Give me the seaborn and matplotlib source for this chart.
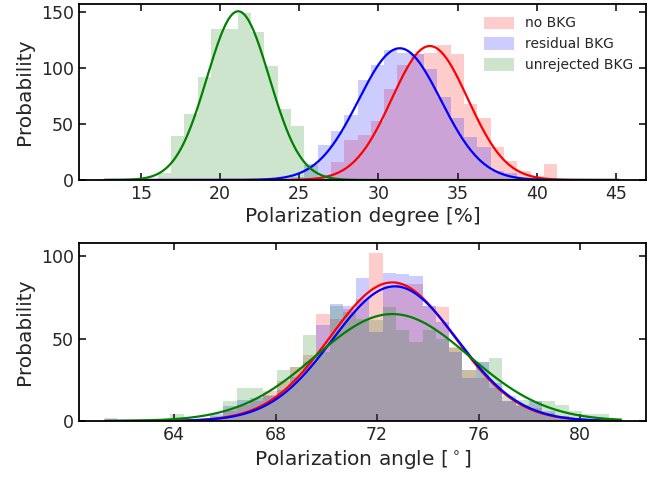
import numpy as np
import pandas as pd
import seaborn as sns
import matplotlib
matplotlib.use("Agg")
import matplotlib.pyplot as plt

# ---------------- data ----------------
# top panel: polarization degree histograms (common bins)
deg_bin_start = 16.07
deg_bin_width = 0.841
deg_no_bkg = [0, 0, 0, 0, 0, 0, 0, 0, 0, 0,
              0, 0, 3, 16, 36, 40, 53, 81, 103, 112,
              113, 120, 112, 68, 55, 29, 17, 8, 4, 14]
deg_residual = [0, 0, 0, 0, 0, 0, 0, 0, 0, 0,
                3, 14, 31, 44, 58, 89, 103, 116, 113, 112,
                99, 74, 55, 38, 29, 8, 6, 2, 1, 0]
deg_unrejected = [6, 39, 59, 92, 135, 135, 149, 132, 102, 63,
                  48, 13, 0, 0, 0, 0, 0, 0, 0, 0,
                  0, 0, 0, 0, 0, 0, 0, 0, 0, 0]
# gaussian fits: amplitude, mean, sigma
deg_fit_no_bkg = (119.5, 33.25, 2.40)
deg_fit_residual = (117.5, 31.35, 2.60)
deg_fit_unrejected = (150.5, 21.15, 1.97)
deg_curve_range = (12.7, 45.2)

# bottom panel: polarization angle histograms (common bins)
ang_bin_start = 61.24
ang_bin_width = 0.523
ang_no_bkg = [0, 0, 0, 0, 0, 0, 0, 0, 2, 6,
              10, 12, 18, 24, 33, 40, 65, 62, 68, 74,
              102, 82, 83, 83, 70, 69, 45, 31, 26, 20,
              12, 9, 8, 5, 3, 1, 0, 0, 0]
ang_residual = [0, 0, 0, 0, 0, 0, 0, 1, 4, 9,
                13, 14, 15, 19, 27, 36, 58, 71, 70, 87,
                54, 90, 89, 88, 70, 60, 42, 26, 36, 23,
                12, 10, 12, 6, 3, 1, 0, 0, 0]
ang_unrejected = [2, 0, 0, 0, 0, 4, 0, 1, 3, 12,
                  20, 20, 16, 31, 33, 52, 42, 70, 66, 62,
                  61, 69, 55, 48, 55, 50, 44, 31, 36, 38,
                  15, 13, 12, 12, 10, 6, 4, 4, 2]
ang_fit_no_bkg = (84.1, 72.6, 2.45)
ang_fit_residual = (81.7, 72.7, 2.45)
ang_fit_unrejected = (64.9, 72.6, 3.03)
ang_curve_range = (61.28, 81.6)

labels = ["no BKG", "residual BKG", "unrejected BKG"]
colors = ["red", "blue", "green"]

# ---------------- style ----------------
sns.set_theme(style="ticks")
plt.rcParams["font.family"] = ["DejaVu Sans"]
plt.rcParams.update({
    "xtick.direction": "in", "ytick.direction": "in",
    "xtick.top": True, "ytick.right": True,
    "xtick.major.size": 5, "ytick.major.size": 5,
    "xtick.major.width": 1.3, "ytick.major.width": 1.3,
    "axes.linewidth": 1.3, "axes.edgecolor": "black",
    "xtick.labelsize": 12.5, "ytick.labelsize": 12.5,
    "axes.labelsize": 14.5,
})

fig = plt.figure(figsize=(6.48, 4.79), dpi=100)
ax1 = fig.add_axes([79 / 648, 1 - 180 / 479, 567 / 648, 176 / 479])
ax2 = fig.add_axes([79 / 648, 1 - 421 / 479, 567 / 648, 178 / 479])


def make_df(start, width, series):
    rows = []
    for lab, vals in zip(labels, series):
        for k, v in enumerate(vals):
            rows.append({"x": start + (k + 0.5) * width, "w": float(v), "set": lab})
    return pd.DataFrame(rows)


def gauss(x, p):
    a, m, s = p
    return a * np.exp(-0.5 * ((x - m) / s) ** 2)


def panel(ax, start, width, series, fits, crange, xlim, ylim, xticks, yticks, xlabel):
    nb = len(series[0])
    edges = [start + width * i for i in range(nb + 1)]
    df = make_df(start, width, series)
    for lab, col in zip(labels, colors):
        sub = df[df["set"] == lab]
        sns.histplot(data=sub, x="x", weights="w", bins=edges, ax=ax,
                     color=col, alpha=0.2, element="bars", fill=True,
                     linewidth=0)
    xs = np.linspace(crange[0], crange[1], 400)
    for p, col in zip(fits, colors):
        ax.plot(xs, gauss(xs, p), color=col, lw=1.6)
    ax.set_xlim(*xlim)
    ax.set_ylim(*ylim)
    ax.set_xticks(xticks)
    ax.set_yticks(yticks)
    ax.set_xlabel(xlabel, labelpad=3)
    ax.set_ylabel("Probability", labelpad=5)


panel(ax1, deg_bin_start, deg_bin_width,
      [deg_no_bkg, deg_residual, deg_unrejected],
      [deg_fit_no_bkg, deg_fit_residual, deg_fit_unrejected],
      deg_curve_range, (11.1, 46.9), (0, 157),
      [15, 20, 25, 30, 35, 40, 45], [0, 50, 100, 150],
      "Polarization degree [%]")
panel(ax2, ang_bin_start, ang_bin_width,
      [ang_no_bkg, ang_residual, ang_unrejected],
      [ang_fit_no_bkg, ang_fit_residual, ang_fit_unrejected],
      ang_curve_range, (60.26, 82.59), (0, 108),
      [64, 68, 72, 76, 80], [0, 50, 100],
      "Polarization angle [$^\\circ$]")

handles = [plt.Rectangle((0, 0), 1, 1, color=c, alpha=0.2, lw=0) for c in colors]
ax1.legend(handles, labels, loc="upper right", frameon=False, fontsize=10,
           handlelength=2.2, handleheight=1.0)

fig.savefig("out.png", dpi=100)
